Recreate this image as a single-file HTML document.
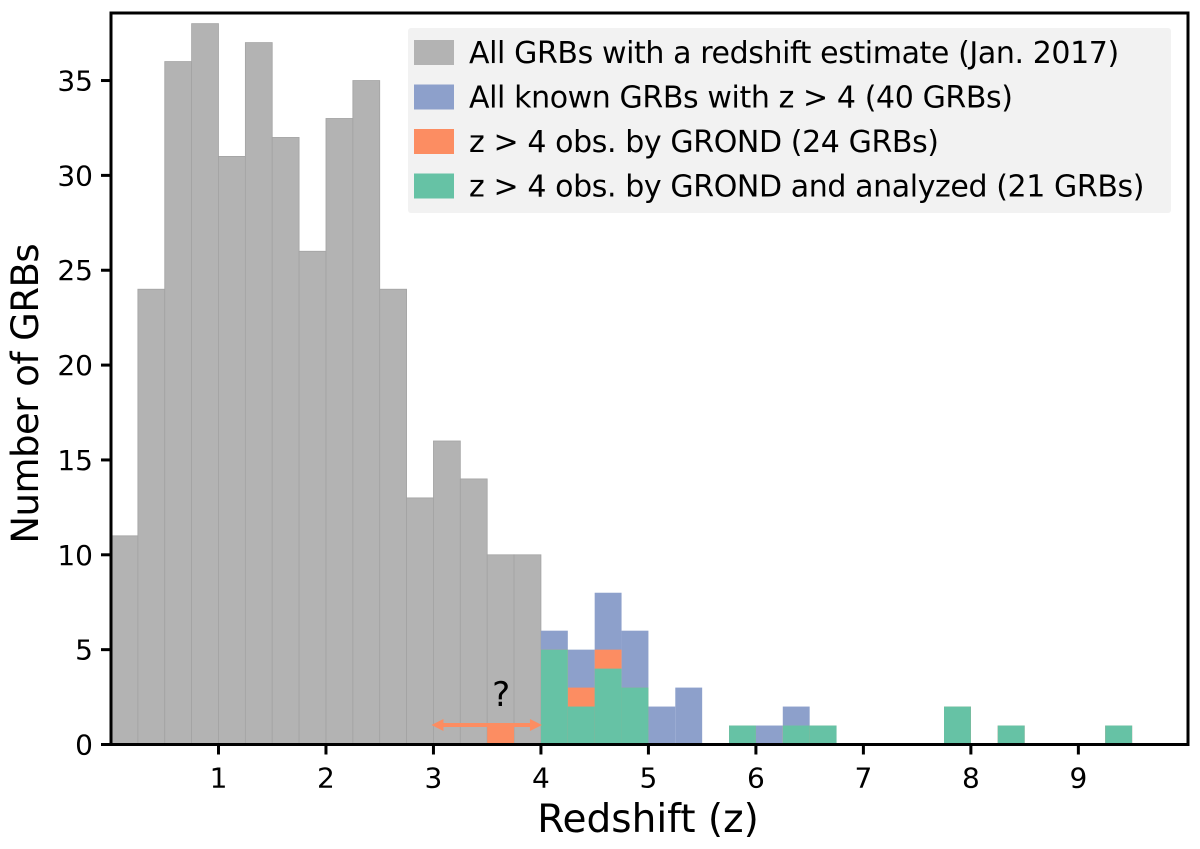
<!DOCTYPE html>
<html><head><meta charset="utf-8"><style>
body{margin:0;background:#fff;}
svg text{font-family:"DejaVu Sans","Liberation Sans",sans-serif;}
</style></head><body>
<svg id="chart" width="1200" height="844" xmlns="http://www.w3.org/2000/svg"></svg>
<script>
const binWidth = 0.25;
const allStarts = [0,0.25,0.5,0.75,1,1.25,1.5,1.75,2,2.25,2.5,2.75,3,3.25,3.5,3.75];
const allCounts = [11,24,36,38,31,37,32,26,33,35,24,13,16,14,10,10];
const blueStarts = [4,4.25,4.5,4.75,5,5.25,5.75,6,6.25,6.5,7.75,8.25,9.25];
const blueCounts = [6,5,8,6,2,3,1,1,2,1,2,1,1];
const orangeStarts = [3.5,4,4.25,4.5,4.75,5.75,6.25,6.5,7.75,8.25,9.25];
const orangeCounts = [1,5,3,5,3,1,1,1,2,1,1];
const greenStarts = [4,4.25,4.5,4.75,5.75,6.25,6.5,7.75,8.25,9.25];
const greenCounts = [5,2,4,3,1,1,1,2,1,1];
const xTicks = [1,2,3,4,5,6,7,8,9];
const yTicks = [0,5,10,15,20,25,30,35];
const legendLabels = ["All GRBs with a redshift estimate (Jan.  2017)","All known GRBs with z > 4 (40 GRBs)","z > 4 obs.  by GROND (24 GRBs)","z > 4 obs.  by GROND and analyzed (21 GRBs)"];
const legendColors = ["#b3b3b3","#8da0cb","#fc8d62","#66c2a5"];

const L=111,R=1188,T=13,B=744.5;
const xmin=0,xmax=10.02,ymin=0,ymax=38.56;
const X=v=>L+(v-xmin)/(xmax-xmin)*(R-L);
const Y=v=>B-(v-ymin)/(ymax-ymin)*(B-T);
const svg=document.getElementById('chart');
const NS="http://www.w3.org/2000/svg";
function mk(tag,attrs,parent){const e=document.createElementNS(NS,tag);for(const k in attrs)e.setAttribute(k,attrs[k]);(parent||svg).appendChild(e);return e;}

function bars(starts,counts,color,name,stroke){
  const g=mk('g',{});
  
  
  starts.forEach((s,i)=>{
    const r=mk('rect',{x:X(s),y:Y(counts[i]),width:X(s+binWidth)-X(s),height:B-Y(counts[i]),fill:color},g);
    if(stroke){r.setAttribute('stroke',stroke);r.setAttribute('stroke-width','0.8');}
    
    
  });
}
bars(allStarts,allCounts,'#b3b3b3','all-grbs','#a3a3a3');
bars(blueStarts,blueCounts,'#8da0cb','z-gt-4');
bars(orangeStarts,orangeCounts,'#fc8d62','grond-observed');
bars(greenStarts,greenCounts,'#66c2a5','grond-analyzed');

// arrow
const ay=725;
const ar=mk('g',{});


mk('line',{x1:X(3)+6,y1:ay,x2:X(4)-6,y2:ay,stroke:'#fc8d62','stroke-width':4},ar);
mk('polygon',{points:`${X(3)-2},${ay} ${X(3)+10},${ay-6} ${X(3)+10},${ay+6}`,fill:'#fc8d62'},ar);
mk('polygon',{points:`${X(4)+1},${ay} ${X(4)-11},${ay-6} ${X(4)-11},${ay+6}`,fill:'#fc8d62'},ar);
const q=mk('text',{x:X(3.63),y:706,'font-size':34,'text-anchor':'middle',fill:'#000'});
q.textContent='?';



// frame
const fr=mk('rect',{x:L,y:T,width:R-L,height:B-T,fill:'none',stroke:'#000','stroke-width':3});



xTicks.forEach(t=>{
  mk('line',{x1:X(t),y1:B,x2:X(t),y2:B+10,stroke:'#000','stroke-width':3});
  const tx=mk('text',{x:X(t),y:B+43,'font-size':28,'text-anchor':'middle'});
  tx.textContent=t;
  
  
});
yTicks.forEach(t=>{
  mk('line',{x1:L-10,y1:Y(t),x2:L,y2:Y(t),stroke:'#000','stroke-width':3});
  const tx=mk('text',{x:L-18,y:Y(t)+10,'font-size':28,'text-anchor':'end'});
  tx.textContent=t;
  
  
});
const xl=mk('text',{x:648,y:832,'font-size':39,'text-anchor':'middle'});
xl.textContent='Redshift (z)';


const yl=mk('text',{x:0,y:0,'font-size':37,'text-anchor':'middle','letter-spacing':'-0.5',transform:`translate(38,${(T+B)/2+15}) rotate(-90)`});
yl.textContent='Number of GRBs';



// legend
const lg=mk('g',{});


mk('rect',{x:408,y:28,width:763,height:185,fill:'#f2f2f2',rx:3},lg);
legendLabels.forEach((lab,i)=>{
  const cy=52+i*44.5;
  const e=mk('g',{},lg);
  
  
  mk('rect',{x:414,y:cy-12,width:40,height:25,fill:legendColors[i]},e);
  const t=mk('text',{x:469,y:cy+11,'font-size':30,'letter-spacing':'-0.4'},e);
  t.textContent=lab;
});
</script>
</body></html>
